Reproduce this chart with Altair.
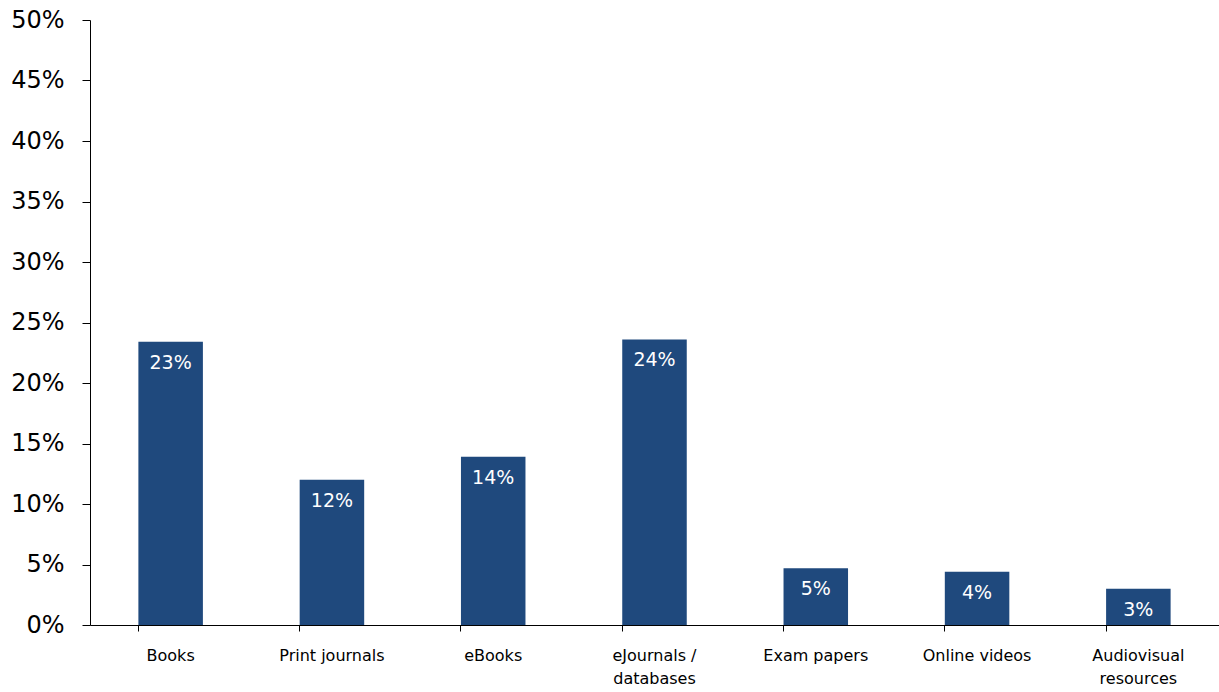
import altair as alt
import pandas as pd

categories = ["Books", "Print journals", "eBooks", "eJournals / databases",
              "Exam papers", "Online videos", "Audiovisual resources"]
values = [23.4, 12.0, 13.9, 23.6, 4.7, 4.4, 3.0]
y_ticks = [0, 5, 10, 15, 20, 25, 30, 35, 40, 45, 50]

df = pd.DataFrame({"category": categories, "value": values})

FONT = "DejaVu Sans"
BAR = "#1F497D"

label_expr = (
    "datum.value == 'eJournals / databases' ? ['eJournals /', 'databases'] : "
    "datum.value == 'Audiovisual resources' ? ['Audiovisual', 'resources'] : datum.value"
)

x = alt.X(
    "category:N",
    sort=categories,
    scale=alt.Scale(paddingInner=0.6, paddingOuter=0.3),
    axis=alt.Axis(
        title=None, labelAngle=0, bandPosition=0, tickSize=6, tickColor="black",
        domainColor="black", labelFont=FONT, labelFontSize=16, labelColor="black",
        labelPadding=16, labelLineHeight=23, labelExpr=label_expr, grid=False,
    ),
)
y = alt.Y(
    "value:Q",
    scale=alt.Scale(domain=[0, 50], nice=False),
    axis=alt.Axis(
        title=None, values=y_ticks, labelExpr="datum.value + '%'", tickSize=8,
        tickColor="black", domainColor="black", labelFont=FONT, labelFontSize=24,
        labelColor="black", labelPadding=18, grid=False,
    ),
)

bars = alt.Chart(df).mark_bar(color=BAR).encode(x=x, y=y)
text = alt.Chart(df).transform_calculate(
    lbl="round(datum.value) + '%'"
).mark_text(
    color="white", font=FONT, fontSize=19, baseline="middle", dy=21
).encode(x=x, y=y, text="lbl:N")

chart = (bars + text).properties(
    width=1129, height=605,
    background="white",
    autosize=alt.AutoSizeParams(type="none"),
    padding={"left": 90, "top": 20, "right": 0, "bottom": 67},
).configure_view(stroke="transparent").configure_axis(grid=False)

chart.save("out.html", embed_options={"renderer": "svg", "actions": False})
